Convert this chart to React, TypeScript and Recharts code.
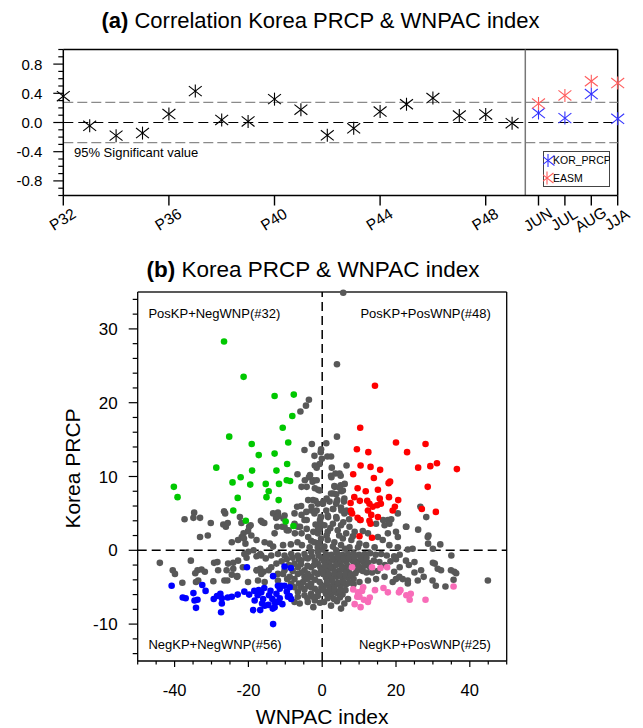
import React from 'react';
import { ScatterChart, Scatter, XAxis, YAxis, ReferenceLine, ReferenceDot, Legend } from 'recharts';

const FONT = '"Liberation Sans", Arial, Helvetica, sans-serif';

// ---------- Panel (a) data ----------
const pentadLabels = ['P32','P33','P34','P35','P36','P37','P38','P39','P40','P41','P42','P43','P44','P45','P46','P47','P48','P49'];
const pentadCorr = [0.36,-0.045,-0.18,-0.145,0.115,0.43,0.035,0.015,0.32,0.175,-0.175,-0.08,0.15,0.25,0.335,0.095,0.11,-0.01];
const monthLabels = ['JUN','JUL','AUG','JJA'];
const korPrcpCorr = [0.13,0.06,0.39,0.05];
const easmCorr = [0.26,0.37,0.565,0.54];
const sigValue = 0.275;
const topTickLabels = ['P32','P36','P40','P44','P48','JUN','JUL','AUG','JJA'];
const topYTicks = [-1,-0.9,-0.8,-0.7,-0.6,-0.5,-0.4,-0.3,-0.2,-0.1,0,0.1,0.2,0.3,0.4,0.5,0.6,0.7,0.8,0.9,1];

// ---------- Panel (b) data: [WNPAC index, Korea PRCP] ----------
const greenPts = [
  [-40.2,8.6],[-39.2,7.2],[-28.7,11.2],[-26.6,28.3],[-25.2,15.4],[-24.3,9.2],[-24.1,5.4],[-22.9,7.1],
  [-22.1,9.9],[-21.3,23.5],[-20.7,4.0],[-19.5,8.9],[-19.1,14.4],[-19.0,10.8],[-17.2,12.9],[-15.3,9.0],
  [-15.1,7.2],[-14.5,8.0],[-12.9,20.9],[-12.9,13.1],[-12.4,10.8],[-11.8,6.8],[-11.7,9.0],[-10.7,16.6],
  [-9.9,3.9],[-9.5,11.7],[-9.6,9.5],[-8.7,9.4],[-9.2,14.6],[-8.1,18.2],[-7.7,21.1],[-7.8,3.3]
];
const redPts = [
  [14.3,22.3],[10.3,16.6],[20.0,14.6],[28.0,14.4],[9.4,13.7],[12.5,13.3],[23.0,13.3],[10.4,11.5],
  [13.1,11.3],[15.7,10.9],[26.0,11.2],[29.3,11.4],[31.1,11.8],[36.5,11.0],[8.4,10.3],[14.0,9.8],
  [18.4,9.3],[18.0,9.1],[28.6,8.6],[9.6,8.4],[11.8,8.0],[15.1,8.2],[8.7,7.2],[15.6,7.0],
  [18.1,7.2],[20.6,6.8],[7.7,6.4],[10.2,6.7],[12.2,6.7],[12.8,6.3],[13.7,5.9],[14.9,6.1],
  [15.9,6.3],[19.7,5.9],[12.4,5.4],[19.1,5.4],[7.8,5.4],[8.1,5.0],[27.0,5.6],[30.8,5.2],
  [15.1,4.5],[13.3,4.8],[12.8,4.0],[13.1,3.6],[10.4,4.1],[9.6,4.4],[10.1,1.9],[13.5,1.7]
];
const bluePts = [
  [-40.8,-4.8],[-37.8,-6.4],[-37.0,-6.5],[-34.9,-5.8],[-34.6,-6.8],[-33.8,-6.7],[-34.2,-7.8],[-32.5,-4.7],
  [-31.6,-5.5],[-29.4,-6.6],[-27.6,-5.9],[-27.2,-6.5],[-27.2,-7.2],[-27.4,-8.4],[-25.6,-6.4],[-24.5,-6.3],
  [-22.9,-6.0],[-21.1,-5.6],[-20.4,-2.3],[-18.4,-5.5],[-18.3,-6.8],[-18.7,-8.1],[-17.5,-6.1],[-16.5,-5.7],
  [-15.7,-5.1],[-16.0,-6.6],[-16.3,-7.2],[-15.6,-7.5],[-14.4,-6.1],[-13.5,-6.6],[-12.9,-7.0],[-12.9,-7.7],
  [-13.4,-7.9],[-13.3,-3.5],[-13.3,-10.0],[-12.0,-4.8],[-11.5,-5.2],[-11.1,-4.8],[-10.2,-4.8],[-8.8,-5.0],
  [-12.0,-7.0],[-10.2,-2.2],[-8.5,-2.4],[-9.3,-6.3],[-8.8,-6.2],[-8.4,-6.6],[-14.6,-7.4],[-17.2,-5.4],
  [-11.5,-6.5],[-10.8,-7.3],[-19.8,-6.0],[-28.5,-6.2],[-16.8,-8.1],[-14.0,-5.5],[-9.6,-5.6],[-12.4,-5.9]
];
const pinkPts = [
  [8.1,-2.3],[13.5,-2.3],[15.8,-2.4],[17.6,-2.3],[8.4,-5.3],[9.7,-5.7],[11.1,-5.0],[10.8,-5.5],
  [9.5,-6.3],[10.1,-6.3],[8.8,-7.3],[10.4,-7.7],[11.3,-6.7],[12.4,-7.0],[12.9,-6.4],[14.3,-5.4],
  [16.6,-5.1],[17.8,-5.7],[20.8,-5.7],[21.2,-5.4],[22.8,-6.1],[24.0,-5.9],[23.7,-6.7],[28.0,-6.7],[35.6,-4.9]
];
const grayPts = [
  // upper left
  [-3.6,20.4],[-4.4,19.6],[-5.9,18.8],[-2.8,14.4],[-4.8,13.6],[-2.1,12.8],[-0.4,13.3],[-0.1,12.4],[-0.7,11.7],[-6.7,10.3],[-3.6,9.9],
  [-37.3,4.2],[-34.7,5.1],[-34.9,4.4],[-33.1,4.4],[-33.1,1.8],[-31.0,2.0],[-30.2,3.7],[-26.3,5.0],[-26.6,5.3],[-26.8,3.5],[-26.1,3.2],
  [-25.6,3.7],[-22.3,4.5],[-21.9,3.7],[-21.3,2.3],[-21.8,1.8],[-20.1,2.6],[-19.8,3.2],[-19.4,3.4],[-19.2,2.0],[-16.6,4.0],[-15.7,3.7],
  [-13.3,5.0],[-12.0,5.1],[-12.5,4.4],[-10.5,4.3],[-10.2,4.7],[-12.2,3.2],[-10.8,3.2],[-9.6,2.7],[-12.9,2.3],[-7.5,5.0],[-7.5,3.6],
  [-6.6,3.2],[-6.8,5.9],[-5.6,4.8],[-4.8,4.1],[-4.2,8.6],[-4.7,9.5],[-2.6,9.3],[-2.0,8.4],[-1.1,8.2],[-0.7,8.1],[-3.8,6.8],[-1.8,6.7],
  [-2.5,6.8],[-1.2,6.3],[-5.7,6.0],[-4.3,5.2],[-2.9,5.4],[-1.5,5.4],[-2.1,5.0],[-0.4,4.5],[-4.2,2.9],[-6.0,3.2],[-7.4,2.3],[-5.6,2.3],
  [-2.4,2.5],[-1.1,2.9],[-0.6,4.1],[-22.8,1.4],[-21.2,1.6],[-20.8,0.9],[-17.8,1.4],[-15.6,1.1],[-14.2,0.9],[-13.3,0.5],[-10.6,0.7],
  [-8.5,0.8],[-6.7,1.1],[-5.5,0.7],[-3.8,1.8],[-3.0,1.3],[-2.1,1.1],[-1.2,2.3],[-0.7,2.9],[-0.4,3.6],[-3.4,0.4],[-1.2,0.4],[-24.5,1.1],
  [-16.2,3.8],[-11.9,4.6],[-3.3,10.2],[-2.4,9.5],[-1.5,9.5],[-5.6,8.6],[-2.0,11.5],[-1.5,11.2],[-2.9,5.9],[-4.2,4.1],[-9.1,2.7],[-10.2,3.2],
  [-18.6,0.0],[-20.0,-0.2],[-0.8,1.0],[-1.8,3.5],[0.0,0.1],
  // upper right
  [5.7,34.9],[4.0,25.2],[4.0,15.4],[1.1,14.5],[-0.3,13.7],[1.4,12.7],[2.4,12.7],[2.6,11.2],[6.6,11.5],[2.4,10.1],[4.7,10.4],[5.0,10.1],
  [2.5,9.9],[3.4,8.6],[5.0,8.8],[3.0,7.7],[5.2,8.0],[5.9,6.6],[4.1,6.8],[1.2,7.0],[0.3,6.6],[3.0,5.6],[5.2,5.4],[7.5,5.2],[1.6,4.5],
  [3.9,4.3],[5.7,3.8],[7.3,4.2],[10.2,4.1],[16.5,4.1],[17.8,4.1],[18.7,4.2],[20.5,5.0],[22.8,3.2],[26.6,5.9],[28.2,4.5],[26.0,2.8],
  [28.8,2.0],[3.3,8.7],[2.4,7.7],[3.8,7.6],[5.6,8.1],[0.2,6.3],[2.0,6.6],[3.8,6.3],[6.0,7.0],[1.1,5.4],[2.9,5.6],[5.1,5.8],[-0.3,4.5],
  [1.5,4.7],[3.8,4.5],[6.0,5.0],[0.6,3.4],[2.9,3.6],[5.1,3.4],[7.4,3.2],[1.5,2.5],[4.2,2.7],[6.5,2.3],[8.8,2.5],[11.0,2.6],[14.6,3.6],
  [16.9,3.4],[18.2,3.6],[20.0,2.5],[20.5,1.8],[17.8,2.3],[22.7,3.2],[12.4,2.3],[15.1,1.8],[16.4,1.4],[-0.3,1.6],[1.5,1.4],[3.3,1.1],
  [5.6,1.6],[7.9,1.4],[10.1,0.9],[0.6,0.5],[2.9,0.5],[5.1,0.7],[7.4,0.4],[9.7,0.4],[11.9,0.7],[14.2,0.4],[18.2,0.7],[20.5,0.4],
  [28.6,1.8],[28.7,0.9],[30.0,0.2],[32.0,0.8],[23.2,0.1],[24.5,0.2],[1.2,2.0],[2.2,3.0],[4.6,2.0],[6.2,0.2],[8.3,1.9],[3.8,0.0],
  [3.6,10.4],[4.6,8.5],[6.1,9.0],[3.9,6.6],[6.6,5.4],
  // lower left
  [-44.0,-1.7],[-35.6,-1.4],[-29.3,-1.7],[-28.4,-1.6],[-40.5,-2.7],[-39.9,-3.2],[-37.9,-4.4],[-33.8,-2.7],[-32.7,-2.6],[-31.8,-2.9],
  [-34.4,-3.1],[-34.2,-4.3],[-29.5,-4.2],[-26.5,-4.1],[-24.5,-3.3],[-23.1,-3.6],[-25.9,-2.7],[-24.1,-2.5],[-25.5,-1.8],[-24.1,-1.7],
  [-22.8,-1.4],[-20.5,-1.0],[-21.5,-2.3],[-21.1,-0.5],[-17.8,-0.8],[-16.5,-0.7],[-15.3,-1.1],[-16.8,-0.5],[-17.7,-2.7],[-16.8,-2.5],
  [-15.9,-2.9],[-16.5,-3.2],[-14.5,-2.7],[-13.8,-2.3],[-12.4,-1.8],[-12.0,-3.2],[-10.2,-2.7],[-13.8,-0.7],[-12.0,-0.5],[-10.2,-0.7],
  [-8.4,-0.5],[-6.6,-0.7],[-4.8,-0.5],[-3.0,-0.2],[-1.2,-0.2],[-5.7,-1.4],[-3.9,-1.1],[-2.0,-1.4],[-0.2,-1.1],[-7.5,-1.8],[-6.6,-2.3],
  [-4.8,-2.7],[-3.0,-2.3],[-1.2,-1.8],[-6.6,-3.2],[-4.8,-3.6],[-3.0,-3.6],[-1.2,-3.2],[-7.5,-3.9],[-5.2,-4.3],[-3.0,-4.5],[-0.7,-4.3],
  [-7.5,-5.0],[-5.7,-5.0],[-3.9,-4.8],[-2.0,-5.2],[-0.2,-5.0],[-6.6,-6.3],[-4.8,-6.1],[-3.0,-5.9],[-1.2,-6.2],[-6.1,-7.2],[-3.9,-7.0],
  [-2.0,-6.8],[-7.5,-7.0],[-10.6,-3.2],[-8.8,-3.6],[-8.4,-4.5],[-12.0,-4.1],[-15.6,-4.3],[-17.4,-4.1],[-20.1,-4.3],[-28.2,-2.7],
  [-23.0,-3.5],[-25.7,-4.1],[-17.8,-2.7],[-33.6,-4.1],[-2.4,-7.7],[-0.6,-7.1],[-9.6,-1.2],[-11.0,-1.5],[-8.0,-2.8],[-9.5,-3.9],
  [-1.0,-0.7],[-2.8,-0.8],[-4.5,-1.0],[-6.3,-1.2],[-8.0,-1.0],[-0.5,-2.3],[-2.2,-2.0],[-4.0,-2.1],[-5.8,-1.9],[-9.0,-2.0],
  [-2.1,-3.0],[-3.9,-3.2],[-5.6,-3.0],[-0.3,-2.9],[-1.9,-4.0],[-4.1,-3.9],[-6.3,-4.5],[-1.1,-5.6],[-3.0,-5.0],[-4.8,-5.3],
  [-6.6,-5.6],[-2.5,-6.3],[-4.0,-6.5],
  // lower right
  [1.0,-0.5],[2.5,-0.6],[4.0,-0.4],[5.5,-0.6],[7.0,-0.5],[8.5,-0.4],[10.0,-0.6],[11.5,-0.5],[13.0,-0.4],[14.5,-0.6],[16.0,-0.5],
  [17.5,-0.7],[19.5,-0.8],[21.0,-0.6],[0.5,-1.5],[2.0,-1.6],[3.5,-1.4],[5.0,-1.6],[6.5,-1.5],[8.0,-1.3],[9.5,-1.6],[11.0,-1.5],
  [12.5,-1.7],[14.0,-1.4],[15.5,-1.6],[22.7,-1.4],[25.0,-1.6],[0.0,-2.6],[1.5,-2.7],[3.0,-2.5],[4.5,-2.8],[6.0,-2.6],[7.2,-2.9],
  [9.5,-2.7],[11.0,-2.8],[12.0,-3.0],[19.5,-2.9],[26.8,-2.7],[31.3,-2.5],[32.2,-2.7],[34.9,-2.7],[35.8,-2.9],[30.5,-1.8],[30.0,-1.7],
  [35.0,-0.7],[1.0,-3.7],[2.5,-3.8],[4.0,-3.6],[5.5,-3.8],[7.0,-3.7],[8.5,-3.9],[10.1,-4.3],[12.4,-4.1],[14.6,-3.9],[16.9,-3.6],
  [19.1,-4.3],[20.0,-3.9],[20.9,-3.6],[21.8,-3.9],[23.2,-4.1],[23.2,-4.5],[25.9,-4.1],[29.9,-4.1],[30.8,-4.8],[33.4,-4.9],[35.6,-4.0],
  [36.3,-3.1],[44.9,-4.1],[0.5,-4.8],[2.0,-4.9],[3.5,-4.7],[5.0,-4.9],[6.5,-4.6],[1.0,-5.9],[2.5,-6.0],[4.0,-5.8],[5.5,-6.0],[7.0,-6.6],
  [0.5,-7.0],[2.4,-7.5],[4.0,-6.9],[5.1,-7.9],[6.0,-7.2],[13.5,-3.0],[15.0,-2.8],[17.0,-2.0],[18.5,-1.5],[20.0,-1.2],[21.0,-2.3],
  [23.5,-2.0],[25.0,-3.0],[27.5,-3.6],[1.2,-1.0],[2.8,-1.1],[4.3,-0.9],[5.8,-1.1],[7.3,-1.0],[8.8,-0.9],[10.5,-1.1],[12.0,-1.0],
  [0.8,-2.1],[2.3,-2.2],[3.8,-2.0],[5.3,-2.2],[6.8,-2.1],[8.5,-2.0],[10.0,-2.2],[11.5,-2.1],[13.0,-2.3],[0.3,-3.2],[1.8,-3.3],
  [3.3,-3.1],[4.8,-3.3],[6.3,-3.2],[7.8,-3.3],[9.0,-3.1],[1.3,-4.3],[2.8,-4.2],[4.3,-4.4],[5.8,-4.3],[7.3,-4.4],[8.5,-4.6],
  [0.3,-5.4],[1.8,-5.5],[3.3,-5.3],[4.8,-5.5],[6.3,-5.4],[1.5,-6.5],[3.2,-6.6],[4.8,-6.4]
];
const xTicksB = [-50,-45,-40,-35,-30,-25,-20,-15,-10,-5,0,5,10,15,20,25,30,35,40,45,50];
const yTicksB = [-14,-12,-10,-8,-6,-4,-2,0,2,4,6,8,10,12,14,16,18,20,22,24,26,28,30,32,34];

// ---------- derived tables ----------
const allLabels = [...pentadLabels, ...monthLabels];
const topTickIdx = topTickLabels.map((l) => allLabels.indexOf(l));
const pentadData = pentadCorr.map((y, i) => ({ x: i, y }));
const korData = korPrcpCorr.map((y, i) => ({ x: pentadLabels.length + i, y }));
const easmData = easmCorr.map((y, i) => ({ x: pentadLabels.length + i, y }));
const toXY = (arr) => arr.map(([x, y]) => ({ x, y }));

const BLUE = '#3232ff';
const RED = '#ff5c5c';

const Asterisk = ({ cx, cy, color }) => {
  const r = 6.5;
  const a = (38 * Math.PI) / 180;
  const dx = 8.2 * Math.cos(a);
  const dy = 8.2 * Math.sin(a);
  return (
    <g stroke={color} strokeWidth={1.1} fill="none">
      <line x1={cx} y1={cy - r} x2={cx} y2={cy + r} />
      <line x1={cx - dx} y1={cy - dy} x2={cx + dx} y2={cy + dy} />
      <line x1={cx - dx} y1={cy + dy} x2={cx + dx} y2={cy - dy} />
    </g>
  );
};
const asteriskShape = (color) => (p) => <Asterisk cx={p.cx} cy={p.cy} color={color} />;
const dotShape = (fill) => (p) => <circle cx={p.cx} cy={p.cy} r={3.3} fill={fill} />;

const TopXTick = ({ x, y, payload }) => {
  const label = allLabels[payload.value];
  const tx = x;
  const ty = y + 25;
  return (
    <g>
      <line x1={x} y1={y} x2={x} y2={y + 10} stroke="#000" strokeWidth={1.4} />
      <text x={tx} y={ty} textAnchor="middle" dominantBaseline="middle" fontFamily={FONT} fontSize={15.5}
        transform={`rotate(-32 ${tx} ${ty})`} fill="#000">{label}</text>
    </g>
  );
};
const TopYTick = ({ x, y, payload }) => {
  const v = payload.value;
  const k = Math.round(v * 10);
  const major = Math.abs(k) < 10 && k % 4 === 0;
  return (
    <g>
      <line x1={x} y1={y} x2={x - (major ? 10 : 5)} y2={y} stroke="#000" strokeWidth={1.2} />
      {major && (
        <text x={x - 21} y={y} dy="0.36em" textAnchor="end" fontFamily={FONT} fontSize={15} fill="#000">
          {(k / 10).toFixed(1)}
        </text>
      )}
    </g>
  );
};
const BotXTick = ({ x, y, payload }) => {
  const v = payload.value;
  const major = v % 20 === 0;
  return (
    <g>
      <line x1={x} y1={y} x2={x} y2={y + (major ? 6 : 3.5)} stroke="#000" strokeWidth={1.2} />
      {major && (
        <text x={x} y={y + 34.5} textAnchor="middle" fontFamily={FONT} fontSize={16.5} fill="#000">{v}</text>
      )}
    </g>
  );
};
const BotYTick = ({ x, y, payload }) => {
  const v = payload.value;
  const major = v % 10 === 0;
  return (
    <g>
      <line x1={x} y1={y} x2={x - (major ? 9 : 5)} y2={y} stroke="#000" strokeWidth={1.2} />
      {major && (
        <text x={x - 20} y={y} dy="0.36em" textAnchor="end" fontFamily={FONT} fontSize={17} fill="#000">{v}</text>
      )}
    </g>
  );
};

const LegendBox = () => (
  <svg width={67} height={36} style={{ display: 'block' }}>
    <rect x={0.5} y={0.5} width={66} height={35} fill="#fff" stroke="#444" strokeWidth={1} />
    <Asterisk cx={5} cy={9.5} color={BLUE} />
    <text x={10} y={9.5} dy="0.36em" fontFamily={FONT} fontSize={10.5} fill="#000">KOR_PRCP</text>
    <Asterisk cx={4} cy={27} color={RED} />
    <text x={10} y={27} dy="0.36em" fontFamily={FONT} fontSize={10.5} fill="#000">EASM</text>
  </svg>
);

const annot = (text, anchor) => (p) => (
  <text x={p.cx} y={p.cy} textAnchor={anchor} fontFamily={FONT} fontSize={13} fill="#000">{text}</text>
);

export default function App() {
  return (
    <div style={{ position: 'absolute', left: 0, top: 0, width: 643, height: 728, background: '#fff', overflow: 'hidden' }}>
      <svg width={643} height={728} style={{ position: 'absolute', left: 0, top: 0 }}>
        <text x={320.5} y={27.5} textAnchor="middle" fontFamily={FONT} fontSize={22} fill="#000">
          <tspan fontWeight="bold">(a)</tspan>
          <tspan> Correlation Korea PRCP &amp; WNPAC index</tspan>
        </text>
        <text x={313} y={277} textAnchor="middle" fontFamily={FONT} fontSize={22.5} fill="#000">
          <tspan fontWeight="bold">(b)</tspan>
          <tspan> Korea PRCP &amp; WNPAC index</tspan>
        </text>
      </svg>

      <div style={{ position: 'absolute', left: 0, top: 0 }}>
        <ScatterChart width={643} height={240} margin={{ top: 49.5, right: 25.3, bottom: 4.5, left: 13.3 }}>
          <XAxis type="number" dataKey="x" domain={[0, 21]} ticks={topTickIdx} interval={0} tick={<TopXTick />}
            tickLine={false} tickSize={0} tickMargin={0} height={40} axisLine={{ stroke: '#000', strokeWidth: 1.5 }} />
          <YAxis type="number" dataKey="y" domain={[-1, 1]} ticks={topYTicks} interval={0} tick={<TopYTick />}
            tickLine={false} tickSize={0} tickMargin={0} width={50} axisLine={{ stroke: '#000', strokeWidth: 1.5 }} />
          <ReferenceLine y={1} stroke="#000" strokeWidth={1.5} />
          <ReferenceLine x={21} stroke="#000" strokeWidth={1.5} />
          <ReferenceLine y={sigValue} stroke="#8a8a8a" strokeWidth={1.2} strokeDasharray="10 4" />
          <ReferenceLine y={-sigValue} stroke="#8a8a8a" strokeWidth={1.2} strokeDasharray="10 4" />
          <ReferenceLine y={0} stroke="#000" strokeWidth={1.2} strokeDasharray="10 5" />
          <ReferenceLine x={pentadLabels.length - 0.5} stroke="#777" strokeWidth={1.5} />
          <ReferenceDot x={0.405} y={-0.466} r={0} shape={annot('95% Significant value', 'start')} />
          <Scatter name="pentad" data={pentadData} shape={asteriskShape('#000')} isAnimationActive={false} legendType="none" />
          <Scatter name="KOR_PRCP" data={korData} shape={asteriskShape(BLUE)} isAnimationActive={false} />
          <Scatter name="EASM" data={easmData} shape={asteriskShape(RED)} isAnimationActive={false} />
          <Legend layout="vertical" align="center" verticalAlign="middle" content={() => <LegendBox />}
            wrapperStyle={{ position: 'absolute', left: 543, top: 151, width: 67, height: 36, margin: 0, padding: 0 }} />
        </ScatterChart>
      </div>

      <div style={{ position: 'absolute', left: 0, top: 240 }}>
        <ScatterChart width={643} height={488} margin={{ top: 52, right: 136.3, bottom: 17, left: 77.7 }}>
          <XAxis type="number" dataKey="x" domain={[-50, 50]} ticks={xTicksB} interval={0} tick={<BotXTick />}
            tickLine={false} tickSize={0} tickMargin={0} height={50} axisLine={{ stroke: '#000', strokeWidth: 1.3 }}
            label={{ content: (p) => {
              const vb = p.viewBox || {};
              return <text x={vb.x + vb.width / 2} y={vb.y + 63} textAnchor="middle" fontFamily={FONT} fontSize={21} fill="#000">WNPAC index</text>;
            } }} />
          <YAxis type="number" dataKey="y" domain={[-15, 35]} ticks={yTicksB} interval={0} tick={<BotYTick />}
            tickLine={false} tickSize={0} tickMargin={0} width={60} axisLine={{ stroke: '#000', strokeWidth: 1.3 }}
            label={{ content: (p) => {
              const vb = p.viewBox || {};
              const cx = vb.x - 5.5;
              const cy = vb.y + vb.height / 2 - 8;
              return <text x={cx} y={cy} dy="0.36em" textAnchor="middle" fontFamily={FONT} fontSize={21} fill="#000"
                transform={`rotate(-90 ${cx} ${cy})`}>Korea PRCP</text>;
            } }} />
          <ReferenceLine y={35} stroke="#222" strokeWidth={1.3} />
          <ReferenceLine x={50} stroke="#000" strokeWidth={1.3} />
          <ReferenceLine x={0} stroke="#000" strokeWidth={1.5} strokeDasharray="9 5" />
          <ReferenceLine y={0} stroke="#000" strokeWidth={1.5} strokeDasharray="9 5" />
          <Scatter data={toXY(grayPts)} shape={dotShape('#585858')} isAnimationActive={false} />
          <Scatter data={toXY(greenPts)} shape={dotShape('#00c800')} isAnimationActive={false} />
          <Scatter data={toXY(redPts)} shape={dotShape('#ff0000')} isAnimationActive={false} />
          <Scatter data={toXY(bluePts)} shape={dotShape('#0000ff')} isAnimationActive={false} />
          <Scatter data={toXY(pinkPts)} shape={dotShape('#f86cb8')} isAnimationActive={false} />
          <ReferenceDot x={-47.1} y={31.5} r={0} shape={annot('PosKP+NegWNP(#32)', 'start')} />
          <ReferenceDot x={45.7} y={31.5} r={0} shape={annot('PosKP+PosWNP(#48)', 'end')} />
          <ReferenceDot x={-47.1} y={-13.4} r={0} shape={annot('NegKP+NegWNP(#56)', 'start')} />
          <ReferenceDot x={45.7} y={-13.4} r={0} shape={annot('NegKP+PosWNP(#25)', 'end')} />
        </ScatterChart>
      </div>
    </div>
  );
}
